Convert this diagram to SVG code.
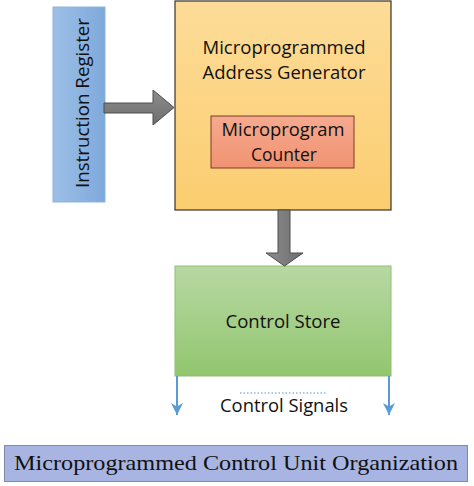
<svg xmlns="http://www.w3.org/2000/svg" width="474" height="486" viewBox="0 0 474 486">
<defs>
<linearGradient id="gIR" x1="0" y1="0" x2="1" y2="0"><stop offset="0" stop-color="#9dbfe6"/><stop offset="1" stop-color="#7ea9dc"/></linearGradient>
<linearGradient id="gMain" x1="0" y1="0" x2="0" y2="1"><stop offset="0" stop-color="#fddc98"/><stop offset="1" stop-color="#fbcd70"/></linearGradient>
<linearGradient id="gCnt" x1="0" y1="0" x2="0" y2="1"><stop offset="0" stop-color="#f6a98f"/><stop offset="1" stop-color="#f19372"/></linearGradient>
<linearGradient id="gCS" x1="0" y1="0" x2="0" y2="1"><stop offset="0" stop-color="#b8d8a3"/><stop offset="1" stop-color="#91c66e"/></linearGradient>
<linearGradient id="gArrH" x1="0" y1="0" x2="0" y2="1"><stop offset="0" stop-color="#8c8c8c"/><stop offset="1" stop-color="#6e6e6e"/></linearGradient>
<linearGradient id="gArrV" x1="0" y1="0" x2="1" y2="0"><stop offset="0" stop-color="#8c8c8c"/><stop offset="1" stop-color="#6e6e6e"/></linearGradient>
<marker id="blueHead" markerWidth="12" markerHeight="12" refX="10" refY="5" orient="auto" markerUnits="userSpaceOnUse" viewBox="0 0 10 10">
<path d="M0,0 L10,5 L0,10 L3,5 Z" fill="#5b9bd5"/>
</marker>
<style>
.lbl{font-family:"Open Sans","Liberation Sans",sans-serif;font-size:18.5px;fill:#111;text-anchor:middle}
.blk{stroke:#3a3226;stroke-width:1.2}
.sig{stroke:#5b9bd5;stroke-width:2;fill:none}
</style>
</defs>
<rect width="474" height="486" fill="#ffffff"/>

<g id="instruction-register">
<rect x="53" y="7" width="52" height="195" fill="url(#gIR)" stroke="#8fb3db" stroke-width="1"/>
<text class="lbl" transform="translate(89,103) rotate(-90)" textLength="170" lengthAdjust="spacingAndGlyphs">Instruction Register</text>
</g>

<g id="address-generator">
<rect x="175" y="1" width="216" height="209" fill="url(#gMain)" class="blk"/>
<text class="lbl" x="284" y="54" textLength="163" lengthAdjust="spacingAndGlyphs">Microprogrammed</text>
<text class="lbl" x="284" y="79" textLength="163" lengthAdjust="spacingAndGlyphs">Address Generator</text>
</g>

<g id="microprogram-counter">
<rect x="211" y="116" width="143" height="52" fill="url(#gCnt)" stroke="#7a3b26" stroke-width="1"/>
<text class="lbl" x="283" y="136" textLength="123" lengthAdjust="spacingAndGlyphs">Microprogram</text>
<text class="lbl" x="284" y="161" textLength="66" lengthAdjust="spacingAndGlyphs">Counter</text>
</g>

<g id="control-store">
<rect x="175" y="266" width="216" height="110" fill="url(#gCS)" stroke="#8fbf70" stroke-width="1"/>
<text class="lbl" x="283" y="328" textLength="115" lengthAdjust="spacingAndGlyphs">Control Store</text>
</g>

<g id="connectors">
<path d="M104,103 L153,103 L153,90 L174,107.5 L153,125 L153,113 L104,113 Z" fill="url(#gArrH)" stroke="#4d4d4d" stroke-width="1"/>
<path d="M278,210 L290,210 L290,253 L303,253 L284.5,266 L266,253 L278,253 Z" fill="url(#gArrV)" stroke="#4d4d4d" stroke-width="1"/>
<line x1="177" y1="376" x2="177" y2="415" class="sig" marker-end="url(#blueHead)"/>
<line x1="389" y1="376" x2="389" y2="415" class="sig" marker-end="url(#blueHead)"/>
<line x1="240" y1="393" x2="327" y2="393" stroke="#8fb6e0" stroke-width="1.5" stroke-dasharray="1.5,2"/>
</g>

<g id="control-signals">
<text class="lbl" x="284" y="412" textLength="128" lengthAdjust="spacingAndGlyphs">Control Signals</text>
</g>

<g id="title">
<rect x="4.5" y="445.5" width="463" height="36" fill="#a8b5e2" stroke="#7f8aa8" stroke-width="1"/>
<text x="236" y="470" font-family="'Liberation Serif',serif" font-size="21" fill="#111" text-anchor="middle" textLength="444" lengthAdjust="spacingAndGlyphs">Microprogrammed Control Unit Organization</text>
</g>
</svg>
